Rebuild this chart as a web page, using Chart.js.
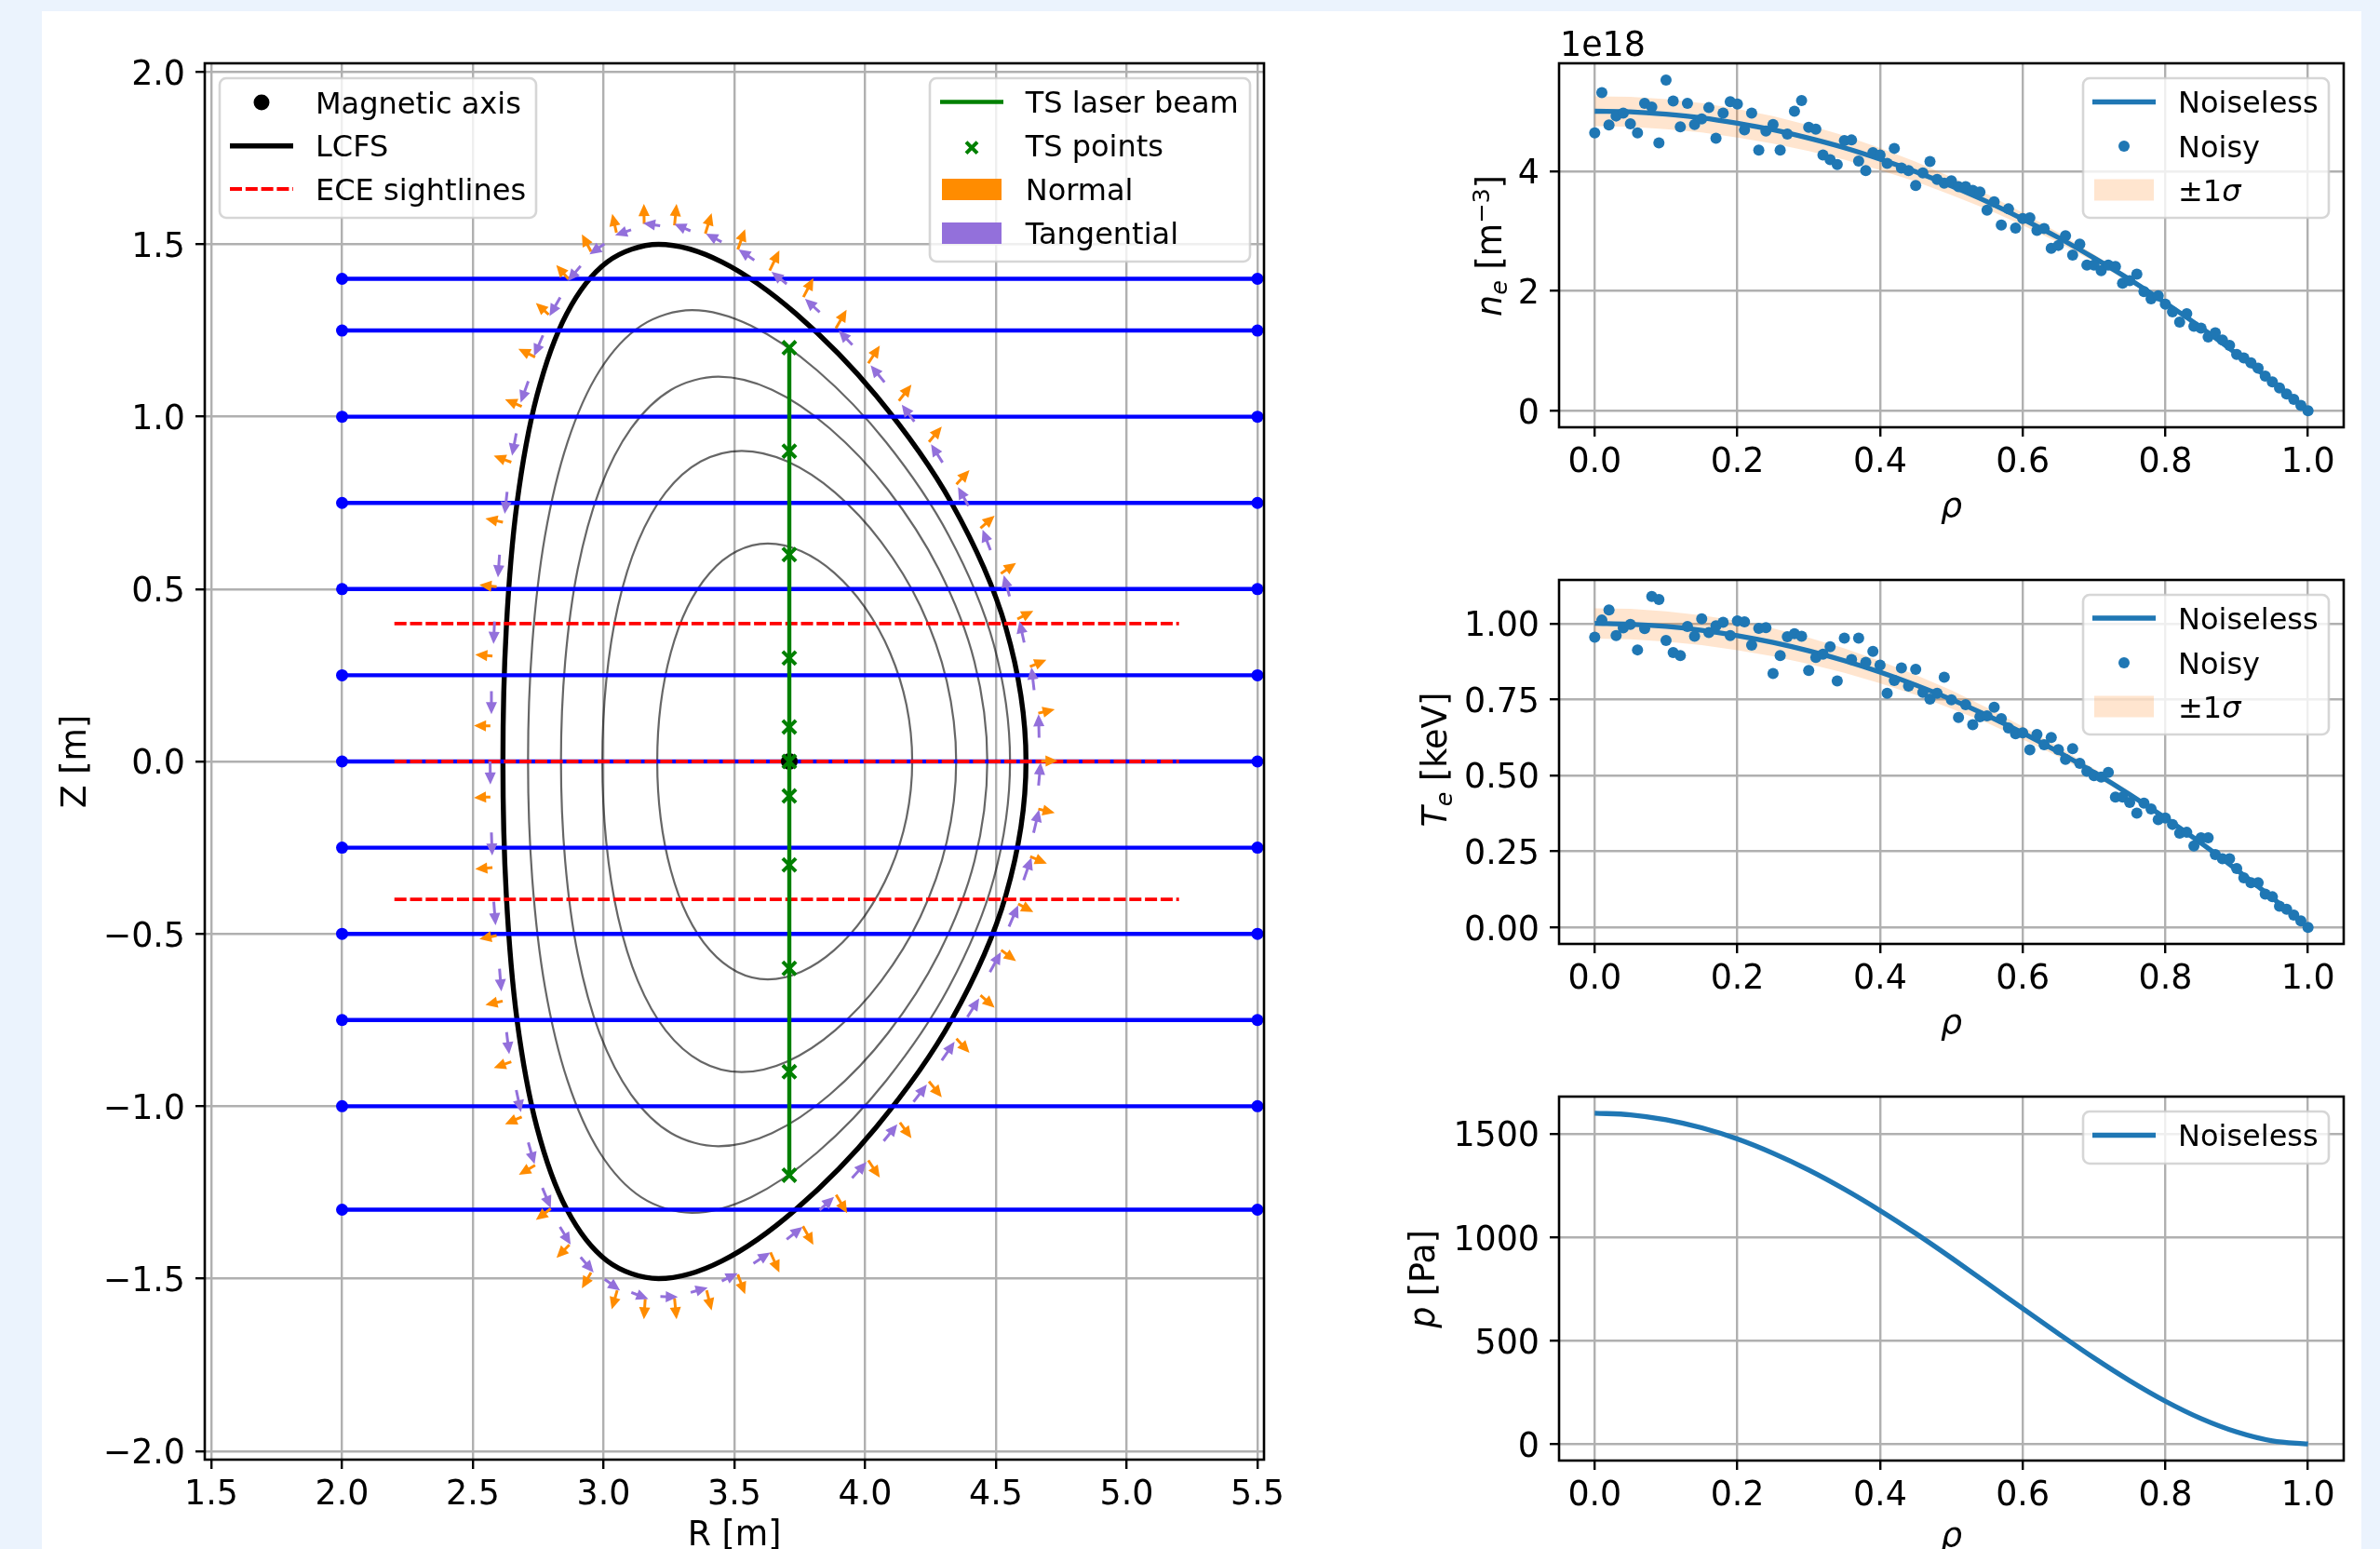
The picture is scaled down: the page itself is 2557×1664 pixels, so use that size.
<!DOCTYPE html>
<html>
<head>
<meta charset="utf-8">
<script src="https://cdn.jsdelivr.net/npm/chart.js@4"></script>
<style>
html,body{margin:0;padding:0;width:2557px;height:1664px;overflow:hidden;background:#ebf3fd}
#card{position:absolute;left:45px;top:12px;width:2492px;height:1700px;background:#fff}
canvas{position:absolute;display:block}
</style>
</head>
<body>
<div id="card"></div>
<canvas id="cMain"></canvas>
<canvas id="cNe"></canvas>
<canvas id="cTe"></canvas>
<canvas id="cP"></canvas>
<script>
/* ---------- tick values and labels ---------- */
const mainXTicks=[1.5,2,2.5,3,3.5,4,4.5,5,5.5];
const mainXLabels=['1.5','2.0','2.5','3.0','3.5','4.0','4.5','5.0','5.5'];
const mainYTicks=[-2,-1.5,-1,-0.5,0,0.5,1,1.5,2];
const mainYLabels=['\u22122.0','\u22121.5','\u22121.0','\u22120.5','0.0','0.5','1.0','1.5','2.0'];
const rhoTicks=[0,0.2,0.4,0.6,0.8,1];
const rhoLabels=['0.0','0.2','0.4','0.6','0.8','1.0'];
const neTicks=[0,2,4];
const neLabels=['0','2','4'];
const teTicks=[0,0.25,0.5,0.75,1];
const teLabels=['0.00','0.25','0.50','0.75','1.00'];
const pTicks=[0,500,1000,1500];
const pLabels=['0','500','1000','1500'];

/* ---------- equilibrium geometry (closed curves; first and last points only guide the spline at the closure) ---------- */
const lcfsR=[4.538,4.615,4.538,4.330,4.042,3.735,3.452,3.210,3.014,2.859,2.745,2.669,2.628,2.615,2.628,2.669,2.745,2.859,3.014,3.210,3.452,3.735,4.042,4.330,4.538,4.615,4.538];
const lcfsZ=[-0.388,0,0.388,0.75,1.061,1.299,1.449,1.5,1.449,1.299,1.061,0.75,0.388,0,-0.388,-0.75,-1.061,-1.299,-1.449,-1.5,-1.449,-1.299,-1.061,-0.75,-0.388,0,0.388];
const fluxAR=[4.492,4.554,4.492,4.320,4.080,3.817,3.563,3.338,3.144,2.985,2.862,2.776,2.727,2.711,2.727,2.776,2.862,2.985,3.144,3.338,3.563,3.817,4.080,4.320,4.492,4.554,4.492];
const fluxAZ=[-0.339,0,0.339,0.655,0.926,1.134,1.264,1.309,1.264,1.134,0.926,0.655,0.339,0,-0.339,-0.655,-0.926,-1.134,-1.264,-1.309,-1.264,-1.134,-0.926,-0.655,-0.339,0,0.339];
const fluxBR=[4.418,4.467,4.418,4.281,4.086,3.865,3.644,3.439,3.258,3.105,2.985,2.901,2.853,2.837,2.853,2.901,2.985,3.105,3.258,3.439,3.644,3.865,4.086,4.281,4.418,4.467,4.418];
const fluxBZ=[-0.289,0,0.289,0.558,0.789,0.966,1.078,1.116,1.078,0.966,0.789,0.558,0.289,0,-0.289,-0.558,-0.789,-0.966,-1.078,-1.116,-1.078,-0.966,-0.789,-0.558,-0.289,0,0.289];
const fluxCR=[4.312,4.348,4.312,4.211,4.061,3.885,3.703,3.528,3.371,3.237,3.131,3.055,3.010,2.995,3.010,3.055,3.131,3.237,3.371,3.528,3.703,3.885,4.061,4.211,4.312,4.348,4.312];
const fluxCZ=[-0.233,0,0.233,0.451,0.637,0.780,0.870,0.901,0.870,0.780,0.637,0.451,0.233,0,-0.233,-0.451,-0.637,-0.780,-0.870,-0.901,-0.870,-0.780,-0.637,-0.451,-0.233,0,0.233];
const fluxDR=[4.158,4.180,4.158,4.095,3.999,3.882,3.755,3.628,3.510,3.406,3.320,3.257,3.218,3.205,3.218,3.257,3.320,3.406,3.510,3.628,3.755,3.882,3.999,4.095,4.158,4.180,4.158];
const fluxDZ=[-0.164,0,0.164,0.316,0.447,0.547,0.610,0.632,0.610,0.547,0.447,0.316,0.164,0,-0.164,-0.316,-0.447,-0.547,-0.610,-0.632,-0.610,-0.547,-0.447,-0.316,-0.164,0,0.164];

/* ---------- diagnostics ---------- */
const sightStartR=2, sightEndR=5.5;
const sightZ=[1.4,1.25,1,0.75,0.5,0.25,0,-0.25,-0.5,-0.75,-1,-1.3];
const eceStartR=2.2, eceEndR=5.2;
const eceZ=[0.4,0,-0.4];
const axisR=3.71, axisZ=0;
const tsR=3.71;
const tsBeamZ=[-1.2,1.2];
const tsPointsZ=[1.2,0.9,0.6,0.3,0.1,0,-0.1,-0.3,-0.6,-0.9,-1.2];

/* ---------- boundary arrows: tail and tip in (R,Z) ---------- */
const normalTailR=[2.952,2.866,2.790,2.738,2.687,2.647,2.615,2.591,2.575,2.567,2.567,2.575,2.591,2.614,2.647,2.687,2.738,2.798,2.869,2.952,3.052,3.159,3.271,3.394,3.513,3.638,3.762,3.889,4.012,4.133,4.244,4.349,4.441,4.520,4.585,4.631,4.662,4.673,4.662,4.630,4.582,4.519,4.441,4.349,4.244,4.129,4.012,3.888,3.764,3.635,3.513,3.389,3.271,3.155,3.049];
const normalTailZ=[1.479,1.399,1.296,1.173,1.030,0.868,0.694,0.507,0.306,0.103,-0.103,-0.308,-0.505,-0.695,-0.871,-1.031,-1.171,-1.297,-1.402,-1.482,-1.534,-1.559,-1.557,-1.534,-1.488,-1.424,-1.348,-1.257,-1.157,-1.047,-0.928,-0.804,-0.678,-0.547,-0.413,-0.276,-0.138,0.001,0.140,0.275,0.413,0.545,0.677,0.804,0.927,1.046,1.155,1.256,1.347,1.424,1.485,1.531,1.555,1.559,1.534];
const normalTipR=[2.917,2.819,2.741,2.674,2.623,2.580,2.548,2.525,2.509,2.504,2.504,2.509,2.525,2.548,2.580,2.623,2.676,2.741,2.820,2.917,3.031,3.154,3.279,3.413,3.541,3.672,3.802,3.931,4.056,4.177,4.293,4.399,4.495,4.577,4.643,4.695,4.725,4.736,4.725,4.693,4.643,4.577,4.495,4.399,4.293,4.177,4.056,3.929,3.802,3.672,3.541,3.413,3.279,3.154,3.033];
const normalTipZ=[1.529,1.440,1.330,1.197,1.050,0.887,0.705,0.512,0.310,0.104,-0.105,-0.312,-0.515,-0.706,-0.889,-1.052,-1.199,-1.330,-1.440,-1.528,-1.589,-1.618,-1.618,-1.592,-1.545,-1.482,-1.402,-1.310,-1.207,-1.093,-0.974,-0.845,-0.714,-0.579,-0.437,-0.296,-0.149,0.002,0.151,0.295,0.437,0.576,0.713,0.845,0.971,1.093,1.206,1.310,1.402,1.482,1.544,1.590,1.617,1.617,1.588];
const tangentTailR=[3.003,2.912,2.834,2.768,2.712,2.666,2.631,2.602,2.583,2.571,2.566,2.571,2.580,2.602,2.629,2.666,2.712,2.766,2.833,2.912,3.004,3.106,3.217,3.333,3.452,3.573,3.700,3.826,3.950,4.071,4.185,4.293,4.391,4.477,4.550,4.606,4.644,4.663,4.665,4.646,4.608,4.552,4.479,4.395,4.296,4.188,4.074,3.951,3.826,3.700,3.576,3.451,3.332,3.216,3.105];
const tangentTailZ=[1.501,1.437,1.346,1.236,1.103,0.952,0.782,0.600,0.406,0.204,0,-0.206,-0.407,-0.601,-0.785,-0.953,-1.105,-1.237,-1.350,-1.438,-1.502,-1.540,-1.552,-1.540,-1.507,-1.456,-1.386,-1.301,-1.208,-1.101,-0.987,-0.867,-0.741,-0.611,-0.479,-0.344,-0.207,-0.070,0.069,0.207,0.345,0.479,0.613,0.741,0.867,0.986,1.100,1.208,1.303,1.385,1.454,1.507,1.539,1.554,1.542];
const tangentTipR=[2.946,2.863,2.793,2.734,2.683,2.650,2.622,2.596,2.579,2.571,2.567,2.574,2.587,2.609,2.639,2.684,2.736,2.798,2.874,2.962,3.063,3.171,3.284,3.398,3.513,3.637,3.761,3.881,4.005,4.123,4.236,4.342,4.436,4.519,4.585,4.636,4.665,4.671,4.663,4.636,4.590,4.530,4.449,4.355,4.252,4.140,4.021,3.899,3.770,3.642,3.516,3.391,3.270,3.151,3.044];
const tangentTipZ=[1.471,1.393,1.292,1.176,1.041,0.887,0.718,0.534,0.341,0.137,-0.067,-0.273,-0.475,-0.667,-0.849,-1.017,-1.168,-1.295,-1.401,-1.482,-1.534,-1.559,-1.553,-1.526,-1.484,-1.424,-1.350,-1.263,-1.162,-1.052,-0.937,-0.813,-0.687,-0.553,-0.417,-0.279,-0.140,-0.003,0.137,0.273,0.407,0.540,0.672,0.796,0.920,1.035,1.149,1.250,1.342,1.420,1.485,1.531,1.559,1.561,1.526];

/* ---------- profiles ---------- */
const rhoSamples=[0,0.01,0.02,0.03,0.04,0.05,0.06,0.07,0.08,0.09,0.1,0.11,0.12,0.13,0.14,0.15,0.16,0.17,0.18,0.19,0.2,0.21,0.22,0.23,0.24,0.25,0.26,0.27,0.28,0.29,0.3,0.31,0.32,0.33,0.34,0.35,0.36,0.37,0.38,0.39,0.4,0.41,0.42,0.43,0.44,0.45,0.46,0.47,0.48,0.49,0.5,0.51,0.52,0.53,0.54,0.55,0.56,0.57,0.58,0.59,0.6,0.61,0.62,0.63,0.64,0.65,0.66,0.67,0.68,0.69,0.7,0.71,0.72,0.73,0.74,0.75,0.76,0.77,0.78,0.79,0.8,0.81,0.82,0.83,0.84,0.85,0.86,0.87,0.88,0.89,0.9,0.91,0.92,0.93,0.94,0.95,0.96,0.97,0.98,0.99,1];
const neNoisy=[4.64,5.31,4.77,4.92,4.97,4.79,4.64,5.13,5.07,4.47,5.52,5.17,4.74,5.13,4.78,4.87,5.06,4.55,4.97,5.16,5.12,4.69,4.97,4.35,4.67,4.78,4.35,4.62,5.00,5.18,4.73,4.70,4.27,4.19,4.11,4.51,4.52,4.17,4.01,4.31,4.27,4.13,4.38,4.05,4.01,3.76,3.97,4.16,3.86,3.80,3.84,3.74,3.74,3.68,3.65,3.35,3.49,3.10,3.37,3.05,3.21,3.22,3.01,3.04,2.71,2.76,2.92,2.60,2.78,2.43,2.43,2.34,2.43,2.41,2.13,2.17,2.28,1.99,1.87,1.92,1.78,1.65,1.48,1.62,1.41,1.38,1.23,1.30,1.18,1.09,0.94,0.88,0.80,0.71,0.58,0.48,0.38,0.28,0.19,0.09,0];
const teNoisy=[0.955,1.011,1.044,0.960,0.985,0.997,0.913,0.983,1.089,1.079,0.944,0.904,0.894,0.990,0.958,1.015,0.970,0.992,1.004,0.960,1.008,1.005,0.929,0.984,0.986,0.835,0.894,0.956,0.966,0.958,0.845,0.888,0.899,0.923,0.811,0.952,0.881,0.952,0.872,0.908,0.863,0.770,0.812,0.854,0.794,0.849,0.773,0.751,0.770,0.823,0.749,0.691,0.733,0.667,0.693,0.696,0.724,0.687,0.656,0.637,0.640,0.584,0.635,0.601,0.625,0.585,0.553,0.588,0.540,0.514,0.499,0.495,0.510,0.429,0.429,0.411,0.376,0.409,0.390,0.355,0.360,0.339,0.310,0.313,0.268,0.295,0.295,0.240,0.226,0.226,0.194,0.163,0.147,0.147,0.110,0.101,0.070,0.060,0.041,0.022,0];
const rhoCurve=[0,0.05,0.1,0.15,0.2,0.25,0.3,0.35,0.4,0.45,0.5,0.55,0.6,0.65,0.7,0.75,0.8,0.85,0.9,0.95,1];
const neCurve=[5,4.99,4.95,4.89,4.8,4.69,4.55,4.39,4.2,3.99,3.75,3.49,3.2,2.89,2.55,2.19,1.8,1.39,0.95,0.49,0];
const neUpper=[5.25,5.24,5.2,5.135,5.04,4.92,4.765,4.59,4.385,4.155,3.9,3.615,3.305,2.97,2.61,2.235,1.83,1.41,0.96,0.495,0];
const neLower=[4.75,4.74,4.7,4.645,4.56,4.46,4.335,4.19,4.015,3.825,3.6,3.365,3.095,2.81,2.49,2.145,1.77,1.37,0.94,0.485,0];
const teCurve=[1,0.9975,0.99,0.9775,0.96,0.9375,0.91,0.8775,0.84,0.7975,0.75,0.6975,0.64,0.5775,0.51,0.4375,0.36,0.2775,0.19,0.0975,0];
const teUpper=[1.05,1.048,1.04,1.027,1.008,0.984,0.953,0.918,0.877,0.831,0.78,0.723,0.661,0.594,0.522,0.447,0.366,0.282,0.192,0.099,0];
const teLower=[0.95,0.948,0.94,0.929,0.912,0.892,0.867,0.838,0.803,0.765,0.72,0.673,0.619,0.562,0.498,0.429,0.354,0.274,0.188,0.097,0];
const pCurve=[1600,1592,1568,1529,1475,1406,1325,1232,1129,1018,900,778,655,534,416,306,207,123,58,15,0];

/* ---------- style ---------- */
const FONT='"DejaVu Sans"';
const TICK=36.4, LEG=32;
const BLUE='#1f77b4', BAND='rgba(255,127,14,0.2)', ORANGE='#ff8c00', PURPLE='#9370db', GREEN='#008000';
const GRID='#b0b0b0';
const SMOOTH=0.33;
Chart.defaults.font.family=FONT;
Chart.defaults.color='#000';

function xy(xs,ys){return ys.map((y,i)=>({x:xs[i],y:y}));}
function place(id,l,t,w,h){const c=document.getElementById(id);c.width=w;c.height=h;c.style.left=l+'px';c.style.top=t+'px';c.style.width=w+'px';c.style.height=h+'px';return c;}
function runsWidth(ctx,runs){let w=0;runs.forEach(r=>{ctx.font=(r.italic?'italic ':'')+r.size+'px '+FONT;w+=ctx.measureText(r.t).width;});return w;}
function drawRuns(ctx,x,y,runs){let p=x;ctx.textAlign='left';ctx.textBaseline='alphabetic';ctx.fillStyle='#000';runs.forEach(r=>{ctx.font=(r.italic?'italic ':'')+r.size+'px '+FONT;ctx.fillText(r.t,p,y+(r.dy||0));p+=ctx.measureText(r.t).width;});}
function drawArrow(ctx,x0,y0,x1,y1,color){
  const a=Math.atan2(y1-y0,x1-x0),L=13,H=6,S=1.5,len=Math.hypot(x1-x0,y1-y0);
  ctx.save();ctx.translate(x0,y0);ctx.rotate(a);ctx.fillStyle=color;ctx.beginPath();
  ctx.moveTo(0,-S);ctx.lineTo(len-L,-S);ctx.lineTo(len-L,-H);ctx.lineTo(len,0);ctx.lineTo(len-L,H);ctx.lineTo(len-L,S);ctx.lineTo(0,S);ctx.closePath();ctx.fill();ctx.restore();
}
function drawLegend(ctx,lg){
  ctx.save();
  ctx.beginPath();ctx.roundRect(lg.x0,lg.y0,lg.x1-lg.x0,lg.y1-lg.y0,7);
  ctx.fillStyle='rgba(255,255,255,0.8)';ctx.fill();
  ctx.lineWidth=2.6;ctx.strokeStyle='rgba(204,204,204,0.8)';ctx.stroke();
  const hc=(lg.h0+lg.h1)/2;
  lg.rows.forEach(r=>{
    ctx.setLineDash([]);
    if(r.kind==='line'){ctx.strokeStyle=r.color;ctx.lineWidth=r.w;ctx.setLineDash(r.dash||[]);ctx.beginPath();ctx.moveTo(lg.h0,r.y);ctx.lineTo(lg.h1,r.y);ctx.stroke();}
    if(r.kind==='dot'){ctx.fillStyle=r.color;ctx.beginPath();ctx.arc(hc,r.y,r.r,0,7);ctx.fill();}
    if(r.kind==='cross'){ctx.strokeStyle=r.color;ctx.lineWidth=4;ctx.beginPath();ctx.moveTo(hc-6,r.y-4);ctx.lineTo(hc+6,r.y+8);ctx.moveTo(hc+6,r.y-4);ctx.lineTo(hc-6,r.y+8);ctx.stroke();}
    if(r.kind==='patch'){ctx.fillStyle=r.color;ctx.fillRect(lg.h0+2,r.y-11.5,lg.h1-lg.h0-4,23);}
    drawRuns(ctx,lg.tx,r.y+11.5,r.runs);
  });
  ctx.restore();
}
function overlay(ox,oy,extra){
  return {id:'overlay',afterDatasetsDraw(chart){
    const ctx=chart.ctx,a=chart.chartArea;
    ctx.save();
    if(extra.arrows)extra.arrows(chart,ctx);
    ctx.lineWidth=2.6;ctx.strokeStyle='#000';ctx.strokeRect(a.left,a.top,a.right-a.left,a.bottom-a.top);
    ctx.translate(-ox,-oy);
    (extra.legends||[]).forEach(l=>drawLegend(ctx,l));
    if(extra.yRuns){ctx.save();ctx.translate(extra.yRuns.x,extra.yRuns.y);ctx.rotate(-Math.PI/2);drawRuns(ctx,-runsWidth(ctx,extra.yRuns.runs)/2,0,extra.yRuns.runs);ctx.restore();}
    if(extra.offsetText){drawRuns(ctx,extra.offsetText.x,extra.offsetText.y,[{t:extra.offsetText.t,size:TICK}]);}
    ctx.restore();
  }};
}
function axisCfg(min,max,ticks,labels,isX,boxSize,title){
  const cfg={type:'linear',min:min,max:max,position:isX?'bottom':'left',
    grid:{color:GRID,lineWidth:2.4,tickColor:'#000',tickLength:10,tickWidth:2.4},
    border:{display:false},
    afterBuildTicks(s){s.ticks=ticks.map(v=>({value:v}));},
    afterFit(s){if(isX)s.height=boxSize;else s.width=boxSize;},
    ticks:{autoSkip:false,maxRotation:0,minRotation:0,padding:isX?6.5:11,labelOffset:isX?0:4,font:{size:TICK,family:FONT},color:'#000',
      callback(v,i){return labels[i];}}
  };
  if(title)cfg.title=title;
  return cfg;
}

/* ---------- main poloidal cross-section ---------- */
function closedCurve(label,rs,zs,color,width,order){
  const last=rs.length-1;
  return {label:label,data:xy(rs,zs),showLine:true,borderColor:color,borderWidth:width,pointRadius:0,tension:SMOOTH,order:order,
    segment:{borderColor:c=>(c.p0DataIndex===0||c.p1DataIndex===last)?'transparent':undefined}};
}
const FLUX='rgba(0,0,0,0.6)';
const mainSets=[
  closedCurve('Flux A',fluxAR,fluxAZ,FLUX,2.2,10),
  closedCurve('Flux B',fluxBR,fluxBZ,FLUX,2.2,10),
  closedCurve('Flux C',fluxCR,fluxCZ,FLUX,2.2,10),
  closedCurve('Flux D',fluxDR,fluxDZ,FLUX,2.2,10),
  closedCurve('LCFS',lcfsR,lcfsZ,'#000',5.4,9)
];
sightZ.forEach(z=>mainSets.push({label:'Sightline',data:[{x:sightStartR,y:z},{x:sightEndR,y:z}],showLine:true,borderColor:'#0000ff',borderWidth:4.4,pointRadius:6.5,pointBackgroundColor:'#0000ff',pointBorderWidth:0,order:8}));
eceZ.forEach(z=>mainSets.push({label:'ECE sightlines',data:[{x:eceStartR,y:z},{x:eceEndR,y:z}],showLine:true,borderColor:'#ff0000',borderWidth:3.8,borderDash:[13,3.8],pointRadius:0,order:7}));
mainSets.push({label:'Magnetic axis',data:[{x:axisR,y:axisZ}],pointRadius:9,pointBackgroundColor:'#000',pointBorderWidth:0,order:6});
mainSets.push({label:'TS laser beam',data:tsBeamZ.map(z=>({x:tsR,y:z})),showLine:true,borderColor:GREEN,borderWidth:4.4,pointRadius:0,order:5});
mainSets.push({label:'TS points',data:tsPointsZ.map(z=>({x:tsR,y:z})),pointStyle:'crossRot',pointRadius:10,pointBorderColor:GREEN,pointBorderWidth:4,order:4});

function mainArrows(chart,ctx){
  const sx=chart.scales.x,sy=chart.scales.y;
  normalTailR.forEach((r,i)=>drawArrow(ctx,sx.getPixelForValue(r),sy.getPixelForValue(normalTailZ[i]),sx.getPixelForValue(normalTipR[i]),sy.getPixelForValue(normalTipZ[i]),ORANGE));
  tangentTailR.forEach((r,i)=>drawArrow(ctx,sx.getPixelForValue(r),sy.getPixelForValue(tangentTailZ[i]),sx.getPixelForValue(tangentTipR[i]),sy.getPixelForValue(tangentTipZ[i]),PURPLE));
}
const base={responsive:false,animation:false,devicePixelRatio:1,events:[],plugins:{legend:{display:false},tooltip:{enabled:false}}};

new Chart(place('cMain',45,0,1400,1700),{type:'scatter',
  data:{datasets:mainSets},
  options:Object.assign({},base,{
    layout:{padding:{left:0,top:68,right:87,bottom:0}},
    scales:{
      x:axisCfg(1.475,5.525,mainXTicks,mainXLabels,true,132,{display:true,text:'R [m]',font:{size:TICK,family:FONT},color:'#000',padding:{top:0,bottom:28}}),
      y:axisCfg(-2.025,2.025,mainYTicks,mainYLabels,false,175,{display:true,text:'Z [m]',font:{size:TICK,family:FONT},color:'#000',padding:{top:16,bottom:0}})
    }}),
  plugins:[overlay(45,0,{arrows:mainArrows,legends:[
    {x0:236,y0:84,x1:576,y1:234,h0:247,h1:315,tx:339,rows:[
      {y:110,kind:'dot',color:'#000',r:8.5,runs:[{t:'Magnetic axis',size:LEG}]},
      {y:156.7,kind:'line',color:'#000',w:5.4,runs:[{t:'LCFS',size:LEG}]},
      {y:203,kind:'line',color:'#ff0000',w:3.8,dash:[13,3.8],runs:[{t:'ECE sightlines',size:LEG}]}]},
    {x0:999,y0:84,x1:1343,y1:281,h0:1010,h1:1078,tx:1101.7,rows:[
      {y:109.5,kind:'line',color:GREEN,w:4.4,runs:[{t:'TS laser beam',size:LEG}]},
      {y:156.7,kind:'cross',color:GREEN,runs:[{t:'TS points',size:LEG}]},
      {y:203.5,kind:'patch',color:ORANGE,runs:[{t:'Normal',size:LEG}]},
      {y:250.5,kind:'patch',color:PURPLE,runs:[{t:'Tangential',size:LEG}]}]}
  ]})]
});

/* ---------- profile panels ---------- */
function profileSets(curve,upper,lower,noisy){
  const s=[];
  if(upper){
    s.push({label:'+1 sigma',data:xy(rhoCurve,upper),showLine:true,borderWidth:0,pointRadius:0,backgroundColor:BAND,fill:{target:'+1'},order:3});
    s.push({label:'-1 sigma',data:xy(rhoCurve,lower),showLine:true,borderWidth:0,pointRadius:0,fill:false,order:3});
  }
  s.push({label:'Noiseless',data:xy(rhoCurve,curve),showLine:true,borderColor:BLUE,borderWidth:5.3,pointRadius:0,cubicInterpolationMode:'monotone',order:2});
  if(noisy)s.push({label:'Noisy',data:xy(rhoSamples,noisy),pointRadius:6,pointBackgroundColor:BLUE,pointBorderWidth:0,order:1});
  return s;
}
function rhoTitle(padBottom){return {display:true,text:'\u03c1',font:{size:TICK,family:FONT,style:'italic'},color:'#000',padding:{top:0,bottom:padBottom}};}
function fullLegend(y0,r1,r2,r3){return {x0:2238,y0:y0,x1:2502,y1:y0+150,h0:2248,h1:2316,tx:2340,rows:[
  {y:r1,kind:'line',color:BLUE,w:5.3,runs:[{t:'Noiseless',size:LEG}]},
  {y:r2,kind:'dot',color:BLUE,r:6,runs:[{t:'Noisy',size:LEG}]},
  {y:r3,kind:'patch',color:BAND,runs:[{t:'\u00b11',size:LEG},{t:'\u03c3',size:LEG,italic:true}]}]};}
function panel(id,ox,oy,h,plotTop,plotBottom,yMin,yMax,ticks,labels,sets,pad,extra){
  new Chart(place(id,ox,oy,1037,h),{type:'scatter',data:{datasets:sets},
    options:Object.assign({},base,{
      layout:{padding:{left:0,top:plotTop-oy,right:19,bottom:0}},
      scales:{
        x:axisCfg(-0.05,1.05,rhoTicks,rhoLabels,true,oy+h-plotBottom,rhoTitle(pad)),
        y:axisCfg(yMin,yMax,ticks,labels,false,175)
      }}),
    plugins:[overlay(ox,oy,extra)]});
}
panel('cNe',1500,0,590,68,459,-0.276,5.8,neTicks,neLabels,profileSets(neCurve,neUpper,neLower,neNoisy),23,{
  legends:[fullLegend(84,109.5,157,204)],
  yRuns:{x:1613,y:264,runs:[{t:'n',size:TICK,italic:true},{t:'e',size:25.5,italic:true,dy:5.5},{t:' [m',size:TICK},{t:'\u22123',size:25.5,dy:-13},{t:']',size:TICK}]},
  offsetText:{x:1676,y:60,t:'1e18'}});
panel('cTe',1500,590,555,623,1014,-0.054,1.143,teTicks,teLabels,profileSets(teCurve,teUpper,teLower,teNoisy),23,{
  legends:[fullLegend(639,664,712,759)],
  yRuns:{x:1554,y:816,runs:[{t:'T',size:TICK,italic:true},{t:'e',size:25.5,italic:true,dy:5.5},{t:' [keV]',size:TICK}]}});
panel('cP',1500,1140,556,1178,1569,-80,1680,pTicks,pLabels,profileSets(pCurve),23,{
  legends:[{x0:2238,y0:1194,x1:2502,y1:1250,h0:2248,h1:2316,tx:2340,rows:[{y:1219.5,kind:'line',color:BLUE,w:5.3,runs:[{t:'Noiseless',size:LEG}]}]}],
  yRuns:{x:1541,y:1374,runs:[{t:'p',size:TICK,italic:true},{t:' [Pa]',size:TICK}]}});
</script>
</body>
</html>
